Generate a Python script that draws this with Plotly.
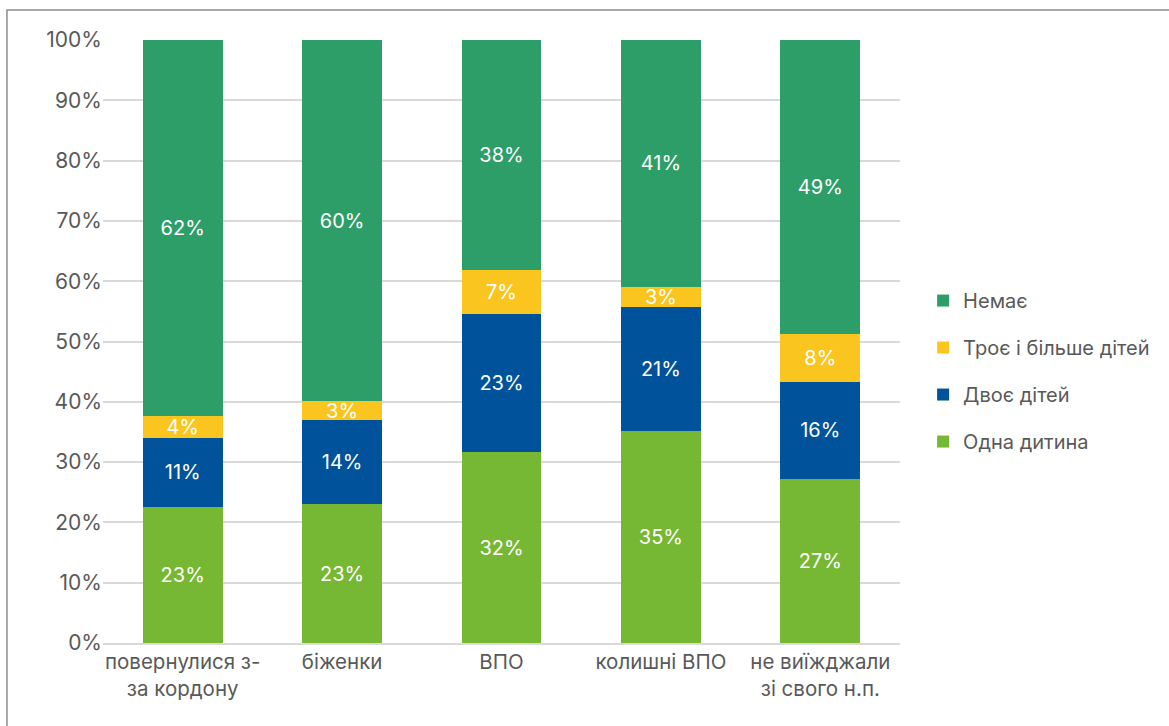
import plotly.graph_objects as go

categories = ["повернулися з-<br>за кордону", "біженки", "ВПО", "колишні ВПО", "не виїжджали<br>зі свого н.п."]
one_child = [22.6, 23.0, 31.6, 35.2, 27.2]
two_children = [11.4, 14.0, 22.9, 20.6, 16.1]
three_plus = [3.6, 3.1, 7.3, 3.3, 7.9]
none_ = [62.4, 59.9, 38.2, 40.9, 48.8]

series = [
    ("Одна дитина", one_child, "#76B833", 4),
    ("Двоє дітей", two_children, "#00529B", 3),
    ("Троє і більше дітей", three_plus, "#FBC520", 2),
    ("Немає", none_, "#2E9E68", 1),
]

FONT = "Inter"
fig = go.Figure()
for name, vals, color, rank in series:
    fig.add_trace(go.Bar(
        x=categories, y=vals, name=name, legendgroup=name, legendrank=rank,
        marker=dict(color=color, line=dict(width=0)),
        text=[f"{round(v):d}%" for v in vals],
        textposition="inside", insidetextanchor="middle", constraintext="none",
        textfont=dict(color="white", size=20, family=FONT),
        hoverinfo="skip",
    ))

# plot area target: x 103..900, y 40..643 (body margin removed via post_script)
fig.update_layout(
    barmode="stack", bargap=0.5,
    width=1169, height=726,
    margin=dict(l=103, r=269, t=40, b=83),
    plot_bgcolor="white", paper_bgcolor="white",
    font=dict(family=FONT, color="#595959", size=20),
    legend=dict(
        traceorder="grouped", x=1.029, y=0.451, yanchor="middle", xanchor="left",
        font=dict(size=20, color="#595959", family=FONT),
        tracegroupgap=18, itemwidth=30,
    ),
    xaxis=dict(showgrid=False, showline=True, linecolor="#D9D9D9", linewidth=1.5,
               tickfont=dict(size=20.5), ticks=""),
    yaxis=dict(range=[0, 100], dtick=10, ticksuffix="%", showgrid=True,
               gridcolor="#D9D9D9", gridwidth=1.5, zeroline=False,
               tickfont=dict(size=21), ticks="", ticklen=0),
    shapes=[dict(type="rect", xref="paper", yref="paper",
                 x0=-0.1205, x1=1.345, y0=-0.144, y1=1.0498,
                 line=dict(color="#8C8C8C", width=1.5), fillcolor="rgba(0,0,0,0)", layer="below")],
)
fig.write_html("out.html", config={"displayModeBar": False},
               post_script="document.body.style.margin='0';")
